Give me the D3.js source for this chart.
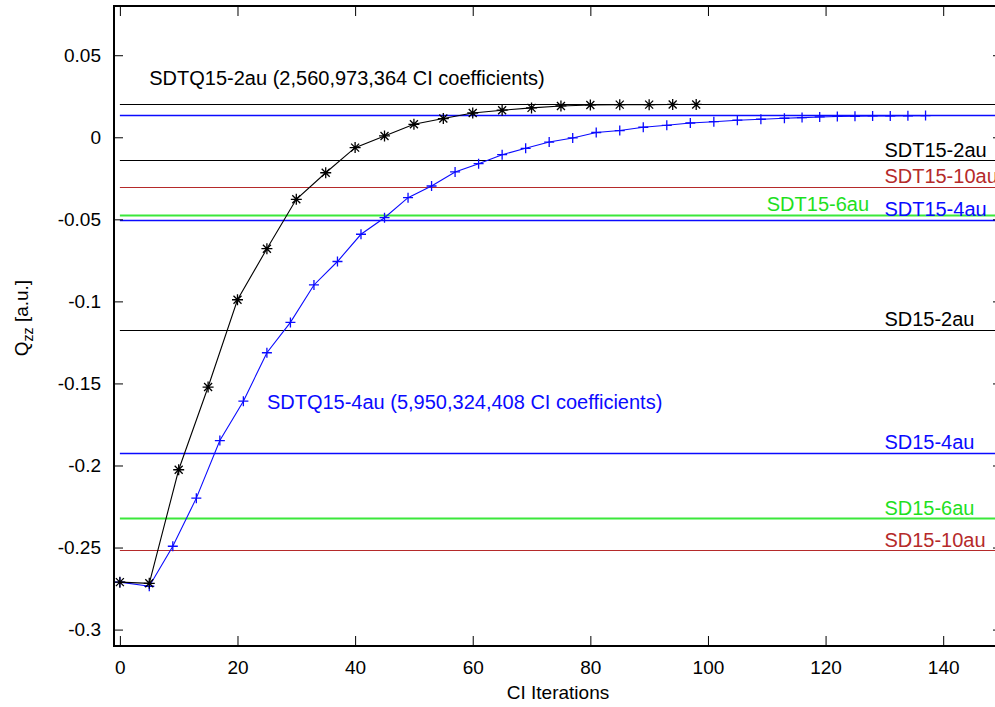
<!DOCTYPE html>
<html>
<head>
<meta charset="utf-8">
<script src="https://cdn.jsdelivr.net/npm/d3@7"></script>
<style>
  body { margin: 0; background: #fff; }
  svg { display: block; font-family: "Liberation Sans", Arial, Helvetica, sans-serif; }
</style>
</head>
<body>
<div id="chart"></div>
<script>
// CI iterations vs Qzz
var sdtq2Iter = [0, 5, 10, 15, 20, 25, 30, 35, 40, 45, 50, 55, 60, 65, 70, 75, 80, 85, 90, 94, 98];
var sdtq2Qzz = [-0.2711, -0.2718, -0.2026, -0.1522, -0.0990, -0.0679, -0.0378, -0.0216, -0.0063, 0.0008,
                0.0079, 0.0114, 0.0148, 0.0165, 0.0179, 0.0191, 0.0197, 0.0199, 0.0199, 0.0200, 0.0200];

var sdtq4Iter = [0, 5, 9, 13, 17, 21, 25, 29, 33, 37, 41, 45, 49, 53, 57, 61, 65, 69, 73, 77, 81, 85, 89,
                 93, 97, 101, 105, 109, 113, 116, 119, 122, 125, 128, 131, 134, 137];
var sdtq4Qzz = [-0.2711, -0.2736, -0.2492, -0.2199, -0.1848, -0.1608, -0.1313, -0.1128, -0.0900, -0.0757,
                -0.0591, -0.0490, -0.0368, -0.0297, -0.0211, -0.0161, -0.0106, -0.0067, -0.0029, -0.0004,
                0.0029, 0.0041, 0.0061, 0.0073, 0.0087, 0.0095, 0.0104, 0.0110, 0.0116, 0.0120, 0.0124,
                0.0127, 0.0128, 0.0130, 0.0130, 0.0131, 0.0132];

// converged reference values
var refNames = ["SDTQ15-2au", "SDTQ15-4au", "SDT15-2au", "SDT15-10au", "SDT15-6au", "SDT15-4au",
                "SD15-2au", "SD15-4au", "SD15-6au", "SD15-10au"];
var refValues = [0.0201, 0.0134, -0.0140, -0.0300, -0.0471, -0.0502, -0.1173, -0.1923, -0.2321, -0.2518];

var xTicks = [0, 20, 40, 60, 80, 100, 120, 140];
var yTicks = [0.05, 0, -0.05, -0.1, -0.15, -0.2, -0.25, -0.3];

var colors = { black: "#000", blue: "#0a0aff", red: "#b52a2a", green: "#3be83b", greenText: "#1ee01e" };
var refColors = [colors.black, colors.blue, colors.black, colors.red, colors.green, colors.blue,
                 colors.black, colors.blue, colors.green, colors.red];

var width = 995, height = 707;
var margin = { left: 114, top: 6, right: 1002, bottom: 646 };

var svg = d3.select("#chart").append("svg")
    .attr("width", width)
    .attr("height", height);

var x = d3.scaleLinear().domain([-1, 150]).range([margin.left, margin.right]);
var y = d3.scaleLinear().domain([-0.31, 0.08]).range([margin.bottom, margin.top]);

// reference lines
svg.append("g")
    .selectAll("line")
    .data(refValues)
    .enter().append("line")
    .attr("x1", x(0))
    .attr("x2", margin.right)
    .attr("y1", function (d) { return Math.round(y(d)) + 0.5; })
    .attr("y2", function (d) { return Math.round(y(d)) + 0.5; })
    .attr("stroke", function (d, i) { return refColors[i]; })
    .attr("stroke-width", function (d, i) {
        if (refColors[i] == colors.green) return 2;
        return refColors[i] == colors.blue ? 1.5 : 1.2;
    });

// reference labels (name index, x in iterations)
var refLabels = [
    { i: 2, at: 130, color: colors.black },
    { i: 3, at: 130, color: colors.red },
    { i: 4, at: 110, color: colors.greenText },
    { i: 5, at: 130, color: colors.blue },
    { i: 6, at: 130, color: colors.black },
    { i: 7, at: 130, color: colors.blue },
    { i: 8, at: 130, color: colors.greenText },
    { i: 9, at: 130, color: colors.red }
];
svg.append("g")
    .selectAll("text")
    .data(refLabels)
    .enter().append("text")
    .attr("x", function (d) { return x(d.at); })
    .attr("y", function (d) { return y(refValues[d.i]) - 3.5; })
    .style("font-size", "20px")
    .style("fill", function (d) { return d.color; })
    .text(function (d) { return refNames[d.i]; });

svg.append("text")
    .attr("x", x(5))
    .attr("y", y(0.0317))
    .style("font-size", "20px")
    .style("fill", colors.black)
    .text("SDTQ15-2au (2,560,973,364 CI coefficients)");

svg.append("text")
    .attr("x", x(25))
    .attr("y", y(-0.1655))
    .style("font-size", "20px")
    .style("fill", colors.blue)
    .text("SDTQ15-4au (5,950,324,408 CI coefficients)");

// series
var line = d3.line()
    .x(function (d) { return x(d[0]); })
    .y(function (d) { return y(d[1]); });

var blueData = sdtq4Iter.map(function (v, i) { return [v, sdtq4Qzz[i]]; });
var blackData = sdtq2Iter.map(function (v, i) { return [v, sdtq2Qzz[i]]; });

svg.append("path")
    .datum(blueData)
    .attr("d", line)
    .style("fill", "none")
    .style("stroke", colors.blue)
    .style("stroke-width", 1.1);

svg.append("g")
    .selectAll("path")
    .data(blueData)
    .enter().append("path")
    .attr("d", function (d) {
        var cx = x(d[0]), cy = y(d[1]), r = 5;
        return "M" + (cx - r) + "," + cy + "H" + (cx + r) + "M" + cx + "," + (cy - r) + "V" + (cy + r);
    })
    .style("stroke", colors.blue)
    .style("stroke-width", 1.3);

svg.append("path")
    .datum(blackData)
    .attr("d", line)
    .style("fill", "none")
    .style("stroke", colors.black)
    .style("stroke-width", 1.1);

svg.append("g")
    .selectAll("path")
    .data(blackData)
    .enter().append("path")
    .attr("d", function (d) {
        var cx = x(d[0]), cy = y(d[1]), r = 5.5, k = 4;
        return "M" + (cx - r) + "," + cy + "H" + (cx + r) + "M" + cx + "," + (cy - r) + "V" + (cy + r) +
            "M" + (cx - k) + "," + (cy - k) + "L" + (cx + k) + "," + (cy + k) +
            "M" + (cx - k) + "," + (cy + k) + "L" + (cx + k) + "," + (cy - k);
    })
    .style("stroke", colors.black)
    .style("stroke-width", 1.3);

// axes, ticks pointing inward
var xAxis = d3.axisBottom(x).tickValues(xTicks).tickSize(-10).tickPadding(15).tickFormat(d3.format("d"));
var yAxis = d3.axisLeft(y).tickValues(yTicks).tickSize(-9).tickPadding(13).tickFormat(function (d) { return String(d); });

var gx = svg.append("g").attr("transform", "translate(0," + margin.bottom + ")").call(xAxis);
var gy = svg.append("g").attr("transform", "translate(" + margin.left + ",0)").call(yAxis);
svg.append("g").attr("transform", "translate(0," + margin.top + ")")
    .call(d3.axisTop(x).tickValues(xTicks).tickSize(-10).tickFormat(""));
svg.append("g").attr("transform", "translate(" + margin.right + ",0)")
    .call(d3.axisRight(y).tickValues(yTicks).tickSize(-9).tickFormat(""));

svg.selectAll(".domain").remove();
svg.selectAll(".tick line").style("stroke", "#000").style("stroke-width", 1);
[gx, gy].forEach(function (g) {
    g.selectAll("text").style("font-size", "19px").style("fill", "#000")
        .style("font-family", "\"Liberation Sans\", Arial, Helvetica, sans-serif");
});

svg.append("rect")
    .attr("x", margin.left)
    .attr("y", margin.top)
    .attr("width", margin.right - margin.left)
    .attr("height", margin.bottom - margin.top)
    .style("fill", "none")
    .style("stroke", "#000")
    .style("stroke-width", 2);

// axis titles
svg.append("text")
    .attr("x", (margin.left + margin.right) / 2)
    .attr("y", 699)
    .attr("text-anchor", "middle")
    .style("font-size", "19px")
    .text("CI Iterations");

var yl = svg.append("text")
    .attr("transform", "translate(28,318) rotate(-90)")
    .attr("text-anchor", "middle")
    .style("font-size", "19px");
yl.append("tspan").text("Q");
yl.append("tspan").attr("dy", 5).style("font-size", "14px").text("zz");
yl.append("tspan").attr("dy", -5).text(" [a.u.]");
</script>
</body>
</html>
